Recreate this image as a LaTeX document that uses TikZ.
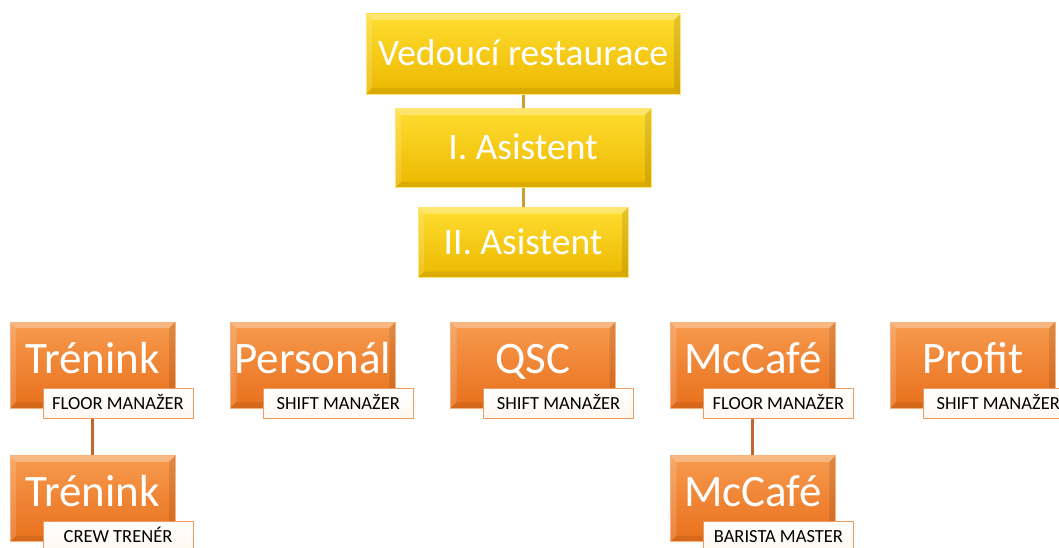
\documentclass[tikz,border=0pt]{standalone}
\usepackage{fontspec}
\setmainfont{Carlito}
\usepackage{tikz}
\usetikzlibrary{positioning,backgrounds}
\definecolor{LeadGold}{HTML}{ECB800}
\definecolor{LeadGoldTop}{HTML}{FFDD30}
\definecolor{LeadGoldEdge}{HTML}{FFE47A}
\definecolor{LeadLine}{HTML}{C9A02E}
\definecolor{TeamOrange}{HTML}{E8701C}
\definecolor{TeamOrangeTop}{HTML}{F79A4E}
\definecolor{TeamOrangeEdge}{HTML}{F8B27C}
\definecolor{TeamLine}{HTML}{C0672C}

\begin{document}
\begin{tikzpicture}[
  x=1pt, y=1pt,
  bevel/.style={path picture={
    \fill[white,opacity=.30] (path picture bounding box.north west) -- (path picture bounding box.north east)
      -- ([xshift=-6pt,yshift=-6pt]path picture bounding box.north east) -- ([xshift=6pt,yshift=-6pt]path picture bounding box.north west) -- cycle;
    \fill[white,opacity=.15] (path picture bounding box.north west) -- ([xshift=6pt,yshift=-6pt]path picture bounding box.north west)
      -- ([xshift=6pt,yshift=6pt]path picture bounding box.south west) -- (path picture bounding box.south west) -- cycle;
    \fill[black,opacity=.08] (path picture bounding box.south west) -- (path picture bounding box.south east)
      -- ([xshift=-6pt,yshift=6pt]path picture bounding box.south east) -- ([xshift=6pt,yshift=6pt]path picture bounding box.south west) -- cycle;
    \fill[black,opacity=.10] (path picture bounding box.north east) -- ([xshift=-6pt,yshift=-6pt]path picture bounding box.north east)
      -- ([xshift=-6pt,yshift=6pt]path picture bounding box.south east) -- (path picture bounding box.south east) -- cycle;
  }},
  lead/.style={bevel, draw=LeadGoldEdge, top color=LeadGoldTop, bottom color=LeadGold, line width=0.8pt,
               text=white, font=\fontsize{37.5}{44}\selectfont, inner sep=0pt, text height=26pt, text depth=3pt},
  team/.style={bevel, draw=TeamOrangeEdge, top color=TeamOrangeTop, bottom color=TeamOrange, line width=0.8pt,
               text=white, font=\fontsize{45}{52}\selectfont, inner sep=0pt,
               minimum width=165pt, minimum height=86pt, text height=30pt, text depth=14pt},
  role/.style={draw=TeamOrange!70, top color=white, bottom color=orange!6, line width=0.8pt,
               text=black, font=\fontsize{18.5}{22}\selectfont, inner sep=0pt, text height=12pt, text depth=0pt,
               minimum width=150pt, minimum height=30pt, anchor=north east},
  link/.style={line width=3pt},
]
\useasboundingbox (0,0) rectangle (1059,-548);

% management
\node[lead, minimum width=314pt, minimum height=80pt] (ved) at (523,-54) {Vedoucí restaurace};
\node[lead, minimum width=256pt, minimum height=79pt, below=14pt of ved] (as1) {I. Asistent};
\node[lead, minimum width=210pt, minimum height=70pt, below=19pt of as1] (as2) {II. Asistent};

% departments
\node[team] (tre) at (92.5,-365) {Trénink};
\node[team, right=54.5pt of tre] (per) {Personál};
\node[team, right=54.5pt of per] (qsc) {QSC};
\node[team, right=54pt of qsc] (caf) {McCafé};
\node[team, right=54pt of caf] (pro) {Profit};
\node[team, below=47pt of tre] (tre2) {Trénink};
\node[team, below=47pt of caf] (caf2) {McCafé};

% roles
\node[role] (treR)  at ([xshift=18pt,yshift=20pt]tre.south east)  {FLOOR MANAŽER};
\node[role] (perR)  at ([xshift=18pt,yshift=20pt]per.south east)  {SHIFT MANAŽER};
\node[role] (qscR)  at ([xshift=18pt,yshift=20pt]qsc.south east)  {SHIFT MANAŽER};
\node[role] (cafR)  at ([xshift=18pt,yshift=20pt]caf.south east)  {FLOOR MANAŽER};
\node[role] (proR)  at ([xshift=18pt,yshift=20pt]pro.south east)  {SHIFT MANAŽER};
\node[role] (tre2R) at ([xshift=18pt,yshift=21pt]tre2.south east) {CREW TRENÉR};
\node[role] (caf2R) at ([xshift=18pt,yshift=21pt]caf2.south east) {BARISTA MASTER};

\begin{scope}[on background layer]
  \draw[link, LeadLine] (ved) -- (as1);
  \draw[link, LeadLine] (as1) -- (as2);
  \foreach \a/\b in {tre/tre2, caf/caf2} {\draw[link, TeamLine] (\a) -- (\b);}
\end{scope}
\end{tikzpicture}
\end{document}
